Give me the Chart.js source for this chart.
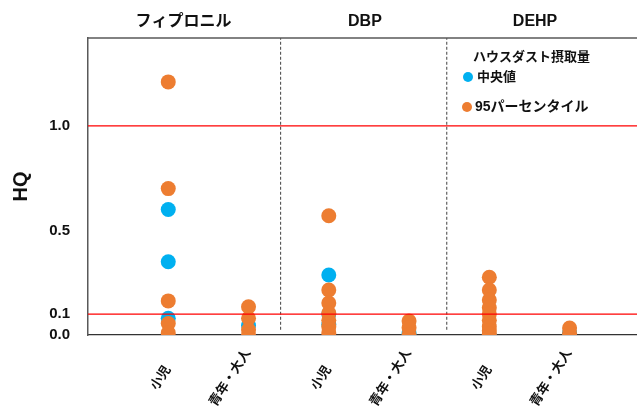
<!DOCTYPE html>
<html lang="ja">
<head>
    <meta charset="UTF-8">
    <title>HQ</title>
    <script src="https://cdn.jsdelivr.net/npm/chart.js"></script>
    <style>
        body { margin: 0; background: #fff; }
        canvas { display: block; }
    </style>
</head>
<body>
    <canvas id="chart" width="637" height="408"></canvas>

    <script>
        // データ
        const categories = ['小児', '青年・大人', '小児', '青年・大人', '小児', '青年・大人'];
        const panelTitles = ['フィプロニル', 'DBP', 'DEHP'];
        const yTicks = [0.0, 0.1, 0.5, 1.0];
        const thresholds = [0.1, 1.0];

        // 中央値 (カテゴリごと)
        const medianHQ = [
            [0.60, 0.35, 0.08],
            [0.045],
            [0.287, 0.10, 0.05],
            [0.01],
            [-0.004],
            [0.01]
        ];
        // 95パーセンタイル (カテゴリごと)
        const p95HQ = [
            [1.21, 0.70, 0.163, 0.055, 0.01],
            [0.135, 0.08, 0.025, 0.0],
            [0.57, 0.215, 0.153, 0.105, 0.07, 0.04, 0.01],
            [0.067, 0.035, 0.0],
            [0.276, 0.215, 0.167, 0.13, 0.10, 0.07, 0.04, 0.02, 0.005],
            [0.033, 0.008]
        ];

        const FONT = "'Liberation Sans', 'Noto Sans CJK JP', sans-serif";
        const X_MAX = 6.84;
        const Y_MAX = 1.42;
        const SEPARATORS = [2.4, 4.47];
        const PANEL_CENTERS = [1.19, 3.45, 5.57];

        function toPoints(groups) {
            const pts = [];
            groups.forEach((vals, i) => vals.forEach(v => pts.push({ x: i + 1, y: v })));
            return pts;
        }

        const datasets = [
            {
                label: '95パーセンタイル',
                data: toPoints(p95HQ),
                backgroundColor: '#ED7D31',
                pointRadius: 7.5,
                borderWidth: 0,
                order: 1
            },
            {
                label: '中央値',
                data: toPoints(medianHQ),
                backgroundColor: '#00B0F0',
                pointRadius: 7.5,
                borderWidth: 0,
                order: 2
            }
        ];

        // 基準線
        thresholds.forEach(t => datasets.push({
            type: 'line',
            data: [{ x: 0, y: t }, { x: X_MAX, y: t }],
            borderColor: '#FF0000',
            borderWidth: 1.2,
            pointRadius: 0,
            showLine: true,
            order: 0
        }));

        // 区切り線
        SEPARATORS.forEach(s => datasets.push({
            type: 'line',
            data: [{ x: s, y: 0.025 }, { x: s, y: Y_MAX }],
            borderColor: '#404040',
            borderWidth: 1,
            borderDash: [3, 2],
            pointRadius: 0,
            showLine: true,
            order: 3
        }));

        const decor = {
            id: 'decor',
            afterDraw(chart) {
                const { ctx, chartArea: a, scales: { x } } = chart;
                ctx.save();

                // 上枠
                ctx.strokeStyle = '#595959';
                ctx.lineWidth = 1.5;
                ctx.beginPath();
                ctx.moveTo(a.left, a.top);
                ctx.lineTo(a.right, a.top);
                ctx.stroke();

                // パネルタイトル
                ctx.fillStyle = '#111';
                ctx.textAlign = 'center';
                ctx.textBaseline = 'middle';
                ctx.font = 'bold 16px ' + FONT;
                panelTitles.forEach((t, i) => ctx.fillText(t, x.getPixelForValue(PANEL_CENTERS[i]), 22));

                // カテゴリラベル (斜め)
                ctx.font = 'bold 13px ' + FONT;
                categories.forEach((c, i) => {
                    const w = ctx.measureText(c).width;
                    ctx.save();
                    ctx.translate(x.getPixelForValue(i + 1) - w * 0.28, a.bottom + 43);
                    ctx.rotate(-57 * Math.PI / 180);
                    ctx.fillText(c, 0, 0);
                    ctx.restore();
                });

                // 凡例
                ctx.textAlign = 'left';
                ctx.font = 'bold 13px ' + FONT;
                ctx.fillText('ハウスダスト摂取量', 473, 57);
                ctx.beginPath();
                ctx.fillStyle = '#00B0F0';
                ctx.arc(468, 77, 5, 0, Math.PI * 2);
                ctx.fill();
                ctx.fillStyle = '#111';
                ctx.fillText('中央値', 477, 77);
                ctx.beginPath();
                ctx.fillStyle = '#ED7D31';
                ctx.arc(467, 107, 5, 0, Math.PI * 2);
                ctx.fill();
                ctx.fillStyle = '#111';
                ctx.font = 'bold 14px ' + FONT;
                ctx.fillText('95パーセンタイル', 475, 107);

                ctx.restore();
            }
        };

        new Chart(document.getElementById('chart'), {
            type: 'scatter',
            data: { datasets: datasets },
            options: {
                responsive: false,
                animation: false,
                events: [],
                layout: { autoPadding: false, padding: { top: 38, right: 0, left: 0, bottom: 0 } },
                plugins: {
                    legend: { display: false },
                    tooltip: { enabled: false }
                },
                scales: {
                    x: {
                        type: 'linear',
                        min: 0,
                        max: X_MAX,
                        grid: { display: false },
                        border: { display: true, color: '#333', width: 1.2 },
                        ticks: { display: false },
                        afterFit: scale => { scale.height = 73; }
                    },
                    y: {
                        type: 'linear',
                        min: 0,
                        max: Y_MAX,
                        grid: { display: false, drawTicks: false },
                        border: { display: true, color: '#595959', width: 1.5 },
                        afterBuildTicks: scale => { scale.ticks = yTicks.map(v => ({ value: v })); },
                        ticks: {
                            padding: 18,
                            color: '#111',
                            font: { family: FONT, size: 15, weight: 'bold' },
                            callback: v => v.toFixed(1)
                        },
                        title: {
                            display: true,
                            text: 'HQ',
                            color: '#111',
                            font: { family: FONT, size: 20, weight: 'bold' },
                            padding: { top: 9, bottom: 0 }
                        },
                        afterFit: scale => { scale.width = 88; }
                    }
                }
            },
            plugins: [decor]
        });
    </script>
</body>
</html>
